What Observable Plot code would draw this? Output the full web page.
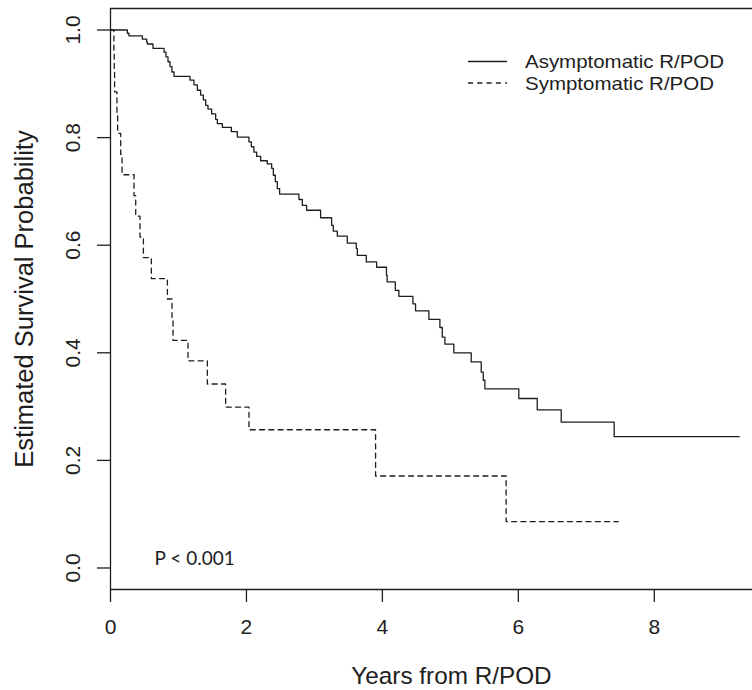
<!DOCTYPE html>
<html><head><meta charset="utf-8">
<script src="https://cdn.jsdelivr.net/npm/d3@7"></script>
<script src="https://cdn.jsdelivr.net/npm/@observablehq/plot@0.6"></script>
<style>body{margin:0;background:#fff;overflow:hidden} svg{display:block}</style>
</head><body><div id="chart"></div>
<script>
// Asymptomatic R/POD (solid) – step times (years) and survival after each step
const asymTime = [0, 0.248, 0.272, 0.469, 0.532, 0.542, 0.625, 0.787, 0.816, 0.846, 0.875, 0.904, 0.934, 1.169, 1.228, 1.278, 1.326, 1.366, 1.400, 1.434, 1.488, 1.547, 1.572, 1.646, 1.778, 1.866, 2.037, 2.072, 2.110, 2.150, 2.209, 2.307, 2.371, 2.396, 2.425, 2.454, 2.488, 2.772, 2.822, 2.885, 3.091, 3.253, 3.278, 3.337, 3.484, 3.616, 3.631, 3.763, 3.915, 4.06, 4.07, 4.19, 4.243, 4.449, 4.488, 4.684, 4.846, 4.881, 4.920, 5.051, 5.307, 5.454, 5.484, 5.508, 6.007, 6.278, 6.631, 7.41, 9.25];
const asymSurv = [1.0, 0.994, 0.989, 0.983, 0.978, 0.974, 0.966, 0.959, 0.950, 0.941, 0.932, 0.922, 0.914, 0.907, 0.898, 0.888, 0.879, 0.870, 0.860, 0.853, 0.844, 0.834, 0.826, 0.819, 0.811, 0.801, 0.792, 0.783, 0.773, 0.765, 0.757, 0.751, 0.743, 0.730, 0.718, 0.705, 0.695, 0.685, 0.674, 0.665, 0.651, 0.637, 0.626, 0.617, 0.604, 0.594, 0.581, 0.569, 0.559, 0.544, 0.532, 0.516, 0.505, 0.491, 0.478, 0.462, 0.447, 0.429, 0.416, 0.400, 0.383, 0.364, 0.349, 0.333, 0.315, 0.294, 0.271, 0.244, 0.244];
// Symptomatic R/POD (dashed)
const sympTime = [0, 0.05, 0.055, 0.06, 0.095, 0.105, 0.15, 0.17, 0.346, 0.371, 0.434, 0.484, 0.601, 0.837, 0.905, 0.92, 1.14, 1.425, 1.694, 2.037, 3.90, 5.82, 7.47];
const sympSurv = [1.0, 0.962, 0.923, 0.885, 0.846, 0.808, 0.769, 0.731, 0.692, 0.654, 0.615, 0.577, 0.538, 0.500, 0.462, 0.423, 0.385, 0.342, 0.299, 0.257, 0.171, 0.086, 0.086];

const xTicks = [0, 2, 4, 6, 8];
const yTicks = [0, 0.2, 0.4, 0.6, 0.8, 1.0];
const legendLabels = ["Asymptomatic R/POD", "Symptomatic R/POD"];
const xTitle = "Years from R/POD";
const yTitle = "Estimated Survival Probability";
const pLabel = "P < 0.001";

const asym = asymTime.map((t, i) => ({t, s: asymSurv[i]}));
const symp = sympTime.map((t, i) => ({t, s: sympSurv[i]}));

const ink = "#1e1e1e";
const dash = "5,4.3";
const font = "'Liberation Sans', Arial, Helvetica, sans-serif";

function legendMark(index, scales, values, dim) {
  const g = d3.create("svg:g");
  const x0 = dim.marginLeft + 358, x1 = x0 + 39, tx = dim.marginLeft + 415;
  const widths = [199, 189];
  legendLabels.forEach((lab, i) => {
    const y = dim.marginTop + 53.5 + i * 21.5;
    g.append("line").attr("x1", x0).attr("x2", x1).attr("y1", y).attr("y2", y)
      .attr("stroke", ink).attr("stroke-width", 1.3)
      .attr("stroke-dasharray", i === 1 ? dash : null);
    g.append("text").attr("x", tx).attr("y", y).attr("dy", "0.36em")
      .attr("text-anchor", "start")
      .attr("textLength", widths[i]).attr("lengthAdjust", "spacingAndGlyphs")
      .attr("fill", ink).attr("font-size", "18.5px").attr("font-family", font).text(lab);
  });
  return g.node();
}

const plot = Plot.plot({
  width: 752, height: 690,
  marginLeft: 110, marginRight: 0, marginTop: 8, marginBottom: 101,
  style: {fontFamily: font, fontSize: "21px", color: ink, background: "#fff"},
  x: {domain: [0, 9.445]},
  y: {domain: [-0.04, 1.04]},
  marks: [
    Plot.ruleX([0], {stroke: ink, strokeWidth: 1.3}),
    Plot.ruleY([-0.04, 1.04], {stroke: ink, strokeWidth: 1.3}),
    Plot.axisX({ticks: xTicks, tickSize: 13, tickPadding: 17, label: null, tickFormat: d => String(d), stroke: ink, strokeWidth: 1.3}),
    Plot.axisY({ticks: yTicks, tickSize: 13, label: null, tickFormat: () => "", stroke: ink, strokeWidth: 1.3}),
    Plot.text(yTicks, {y: d => d, text: d => d.toFixed(1), frameAnchor: "left", dx: -37, rotate: -90, textAnchor: "middle", lineAnchor: "middle", fill: ink}),
    Plot.text([yTitle], {frameAnchor: "left", dx: -86, rotate: -90, textAnchor: "middle", lineAnchor: "middle", fontSize: 25.5, fill: ink}),
    Plot.text([xTitle], {frameAnchor: "bottom", dx: 20, dy: 87, lineAnchor: "middle", fontSize: 24.3, fill: ink}),
    Plot.line(asym, {x: "t", y: "s", curve: "step-after", stroke: ink, strokeWidth: 1.3}),
    Plot.line(symp, {x: "t", y: "s", curve: "step-after", stroke: ink, strokeWidth: 1.3, strokeDasharray: dash}),
    Plot.text([pLabel], {frameAnchor: "bottom-left", dx: 44, dy: -31, textAnchor: "start", lineAnchor: "middle", fontFamily: "Lato, 'Open Sans', sans-serif", fontSize: 19, fill: ink}),
    legendMark
  ]
});
document.getElementById("chart").appendChild(plot);
</script>
</body></html>
